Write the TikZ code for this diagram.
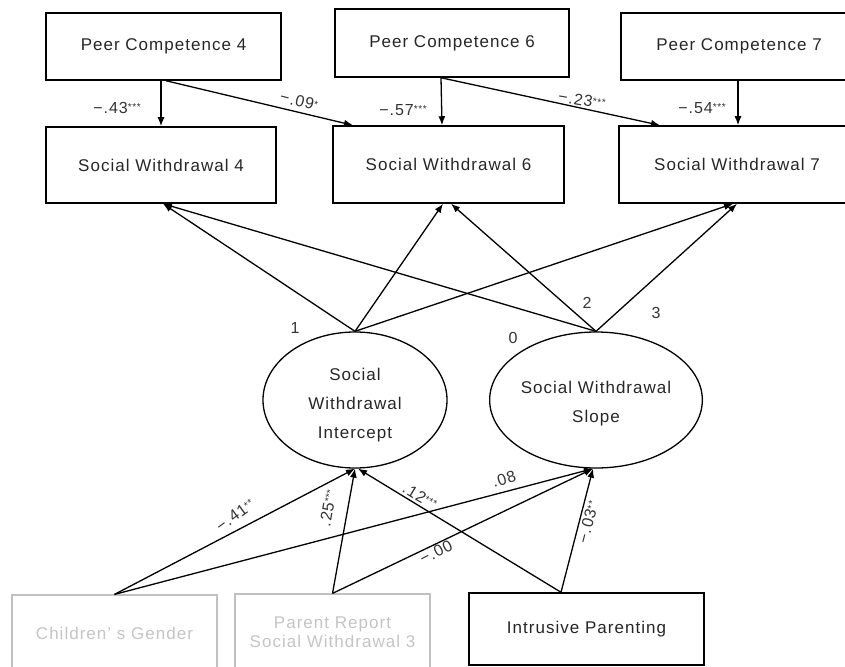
\documentclass[tikz,border=0pt]{standalone}
\usepackage{fontspec}
\setmainfont{Liberation Sans}[LetterSpace=6]
\usetikzlibrary{arrows.meta,shapes.geometric}

\definecolor{txtgray}{HTML}{262626}
\definecolor{lblgray}{HTML}{333333}
\definecolor{boxgray}{HTML}{C0C0C0}
\definecolor{fadegray}{HTML}{C4C4C4}
\newcommand{\pstar}[1]{\raisebox{3pt}{\fontsize{10}{10}\selectfont #1}}

\tikzset{
  obsbox/.style={draw, line width=1.5pt, minimum width=235pt, minimum height=67pt,
    inner sep=0pt, text=txtgray, font=\fontsize{17}{20}\selectfont},
  ctrlbox/.style={obsbox, draw=boxgray, line width=1.2pt, text=fadegray, align=center},
  latent/.style={ellipse, draw, line width=1.3pt, minimum width=184pt, minimum height=136pt,
    inner sep=0pt, text=txtgray, align=center, font=\fontsize{17}{29}\selectfont},
  coef/.style={text=lblgray, inner sep=0pt, font=\fontsize{16}{16}\selectfont},
  arr/.style={line width=1.3pt, -{Latex[length=9pt,width=7pt]}},
}

\begin{document}
\begin{tikzpicture}[x=1pt,y=-1pt]
                  % Frame
                  \useasboundingbox (0,0) rectangle (845,666);

                  % Peer competence
                  \node[obsbox] (pc4) at (163.5,46.5) {Peer Competence 4};
                  \node[obsbox, minimum width=234pt, minimum height=68pt] (pc6) at (452,43) {Peer Competence 6};
                  \node[obsbox, minimum width=236pt] (pc7) at (739,46.5) {Peer Competence 7};

                  % Social withdrawal
                  \node[obsbox, minimum width=230pt, minimum height=76pt] (sw4) at (161,165) {Social Withdrawal 4};
                  \node[obsbox, minimum width=231pt, minimum height=77pt] (sw6) at (448.5,164.5) {Social Withdrawal 6};
                  \node[obsbox, minimum width=236pt, minimum height=77pt] (sw7) at (737,164.5) {Social Withdrawal 7};

                  % Growth factors
                  \node[latent] (icpt) at (355,400) {\rule{0pt}{22pt}Social\\Withdrawal\\Intercept};
                  \node[latent, minimum width=186pt] (slope) at (596,400) {\rule{0pt}{20pt}Social Withdrawal\\Slope};

                  % Covariates
                  \node[ctrlbox, minimum width=205pt, minimum height=76pt] (gend) at (114.5,633) {Children’ s Gender};
                  \node[ctrlbox, minimum width=195pt, minimum height=76pt,
                        font=\fontsize{17}{19}\selectfont] (prsw) at (332.5,632) {Parent Report\\Social Withdrawal 3};
                  \node[obsbox, minimum height=72pt] (intru) at (586.5,629) {Intrusive Parenting};

                  % Peer competence paths
                  \draw[arr] ([xshift=-2.5pt]pc4.south) -- (sw4.north);
                  \draw[arr] ([xshift=2.5pt]pc4.south) -- ([xshift=-95.5pt]sw6.north);
                  \draw[arr] ([xshift=-11pt]pc6.south) -- ([xshift=-6.5pt]sw6.north);
                  \draw[arr] ([xshift=-11pt]pc6.south) -- ([xshift=-77pt]sw7.north);
                  \draw[arr] ([xshift=-1pt]pc7.south) -- ([xshift=1pt]sw7.north);

                  % Loadings
                  \draw[arr] (icpt.north) -- ([xshift=2pt]sw4.south);
                  \draw[arr] (icpt.north) -- ([xshift=-5.5pt]sw6.south);
                  \draw[arr] (icpt.north) -- ([xshift=-4pt]sw7.south);
                  \draw[arr] (slope.north) -- ([xshift=2pt]sw4.south);
                  \draw[arr] (slope.north) -- ([xshift=2.5pt]sw6.south);
                  \draw[arr] (slope.north) -- (sw7.south);

                  % Covariate paths
                  \draw[arr] (gend.north) -- (icpt.south);
                  \draw[arr] (gend.north) -- ([xshift=-3pt]slope.south);
                  \draw[arr] (prsw.north) -- (icpt.south);
                  \draw[arr] (prsw.north) -- ([xshift=-3pt]slope.south);
                  \draw[arr] ([xshift=-25.5pt]intru.north) -- ([xshift=3pt]icpt.south);
                  \draw[arr] ([xshift=-25.5pt]intru.north) -- ([xshift=-3pt]slope.south);

                  % Coefficients
                  \node[coef] (b43) at (117,108) {−.43\pstar{***}};
                  \node[coef, rotate=-14] (b09) at (299,101) {−.09\pstar{*}};
                  \node[coef] (b57) at (403,110) {−.57\pstar{***}};
                  \node[coef, rotate=-10] (b23) at (582,100) {−.23\pstar{***}};
                  \node[coef] (b54) at (702,108) {−.54\pstar{***}};

                  \node[coef] (ld1) at (295,328) {1};
                  \node[coef] (ld0) at (513,338) {0};
                  \node[coef] (ld2) at (587,303) {2};
                  \node[coef] (ld3) at (656,313) {3};

                  \node[coef, rotate=36] (g41) at (235,515) {−.41\pstar{**}};
                  \node[coef, rotate=80] (g25) at (328,508) {.25\pstar{***}};
                  \node[coef, rotate=-31] (g12) at (420,496) {.12\pstar{***}};
                  \node[coef, rotate=18] (g08) at (504,479) {.08};
                  \node[coef, rotate=27] (g00) at (436,552) {−.00};
                  \node[coef, rotate=75] (g03) at (588,522) {−.03\pstar{**}};
            \end{tikzpicture}
\end{document}
